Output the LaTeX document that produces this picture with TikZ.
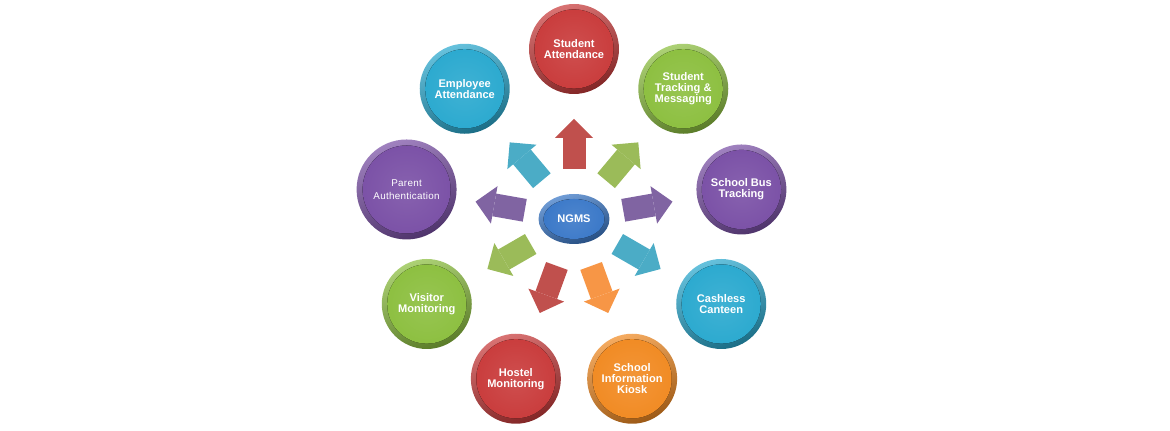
\documentclass[tikz,border=0pt]{standalone}
\usepackage{fontspec}
\setmainfont{Liberation Sans}
\usetikzlibrary{arrows.meta,calc,shapes.geometric}
\definecolor{ballred}{HTML}{C93B3B}
\definecolor{ballcyan}{HTML}{2AA9CF}
\definecolor{ballgreen}{HTML}{8CBF3F}
\definecolor{ballpurple}{HTML}{7A50A6}
\definecolor{ballorange}{HTML}{F18A22}
\definecolor{ballblue}{HTML}{3A78C8}
\definecolor{arrred}{HTML}{C0504D}
\definecolor{arrcyan}{HTML}{4BACC6}
\definecolor{arrgreen}{HTML}{9BBB59}
\definecolor{arrpurple}{HTML}{8064A2}
\definecolor{arrorange}{HTML}{F79646}
\newcommand{\ballfont}{\bfseries\fontsize{6.3}{6.2}\selectfont}
\newcommand{\parentfont}{\fontsize{5.6}{7.2}\selectfont\addfontfeature{LetterSpace=3}}
\tikzset{
  ball/.style={circle,inner sep=0pt,minimum size=1.8cm,align=center,text=white,font=\ballfont,
    top color=#1!72!white,bottom color=#1!65!black,shading angle=20,
    path picture={\fill[inner color=#1!90!white,outer color=#1]
      let \p1=($(path picture bounding box.north)-(path picture bounding box.center)$) in
      (path picture bounding box.center) circle[radius=0.88*\y1];}},
  hub/.style={ellipse,inner sep=0pt,minimum width=1.42cm,minimum height=1cm,text=white,font=\ballfont,
    top color=#1!72!white,bottom color=#1!65!black,shading angle=20,
    path picture={\fill[inner color=#1!90!white,outer color=#1]
      let \p1=($(path picture bounding box.north)-(path picture bounding box.center)$),
          \p2=($(path picture bounding box.east)-(path picture bounding box.center)$) in
      (path picture bounding box.center) ellipse[x radius=\x2-0.1cm,y radius=\y1-0.1cm];}},
  spoke/.style={draw=#1,line width=0.46cm,shorten <=1cm,shorten >=1.4cm,
    -{Triangle[length=0.38cm,width=0.76cm,line width=0pt]}},
}
\begin{document}
\begin{tikzpicture}[x=0.02cm,y=0.02cm,line join=round]
  \useasboundingbox (0,0) rectangle (1170,431);
  \node[hub=ballblue] (ngms) at (574,212) {NGMS};
  % outer ring, every 40 degrees
  \foreach \ang/\col/\arr/\nm/\txt in {
      10/ballpurple/arrpurple/bus/{School Bus\\Tracking},
      50/ballgreen/arrgreen/tracking/{Student\\Tracking \&\\Messaging},
      90/ballred/arrred/student/{Student\\Attendance},
      130/ballcyan/arrcyan/employee/{Employee\\Attendance},
      210/ballgreen/arrgreen/visitor/{Visitor\\Monitoring},
      250/ballred/arrred/hostel/{Hostel\\Monitoring},
      290/ballorange/arrorange/kiosk/{School\\Information\\Kiosk},
      330/ballcyan/arrcyan/canteen/{Cashless\\Canteen}}{
    \node[ball=\col] (\nm) at ($(ngms)+(\ang:170)$) {\txt};
    \draw[spoke=\arr] (ngms.center) -- (\nm.center);
  }
  \node[ball=ballpurple,minimum size=2cm,font=\parentfont] (parent) at ($(ngms)+(170:170)$) {Parent\\Authentication};
  \draw[spoke=arrpurple] (ngms.center) -- (parent.center);
\end{tikzpicture}
\end{document}
